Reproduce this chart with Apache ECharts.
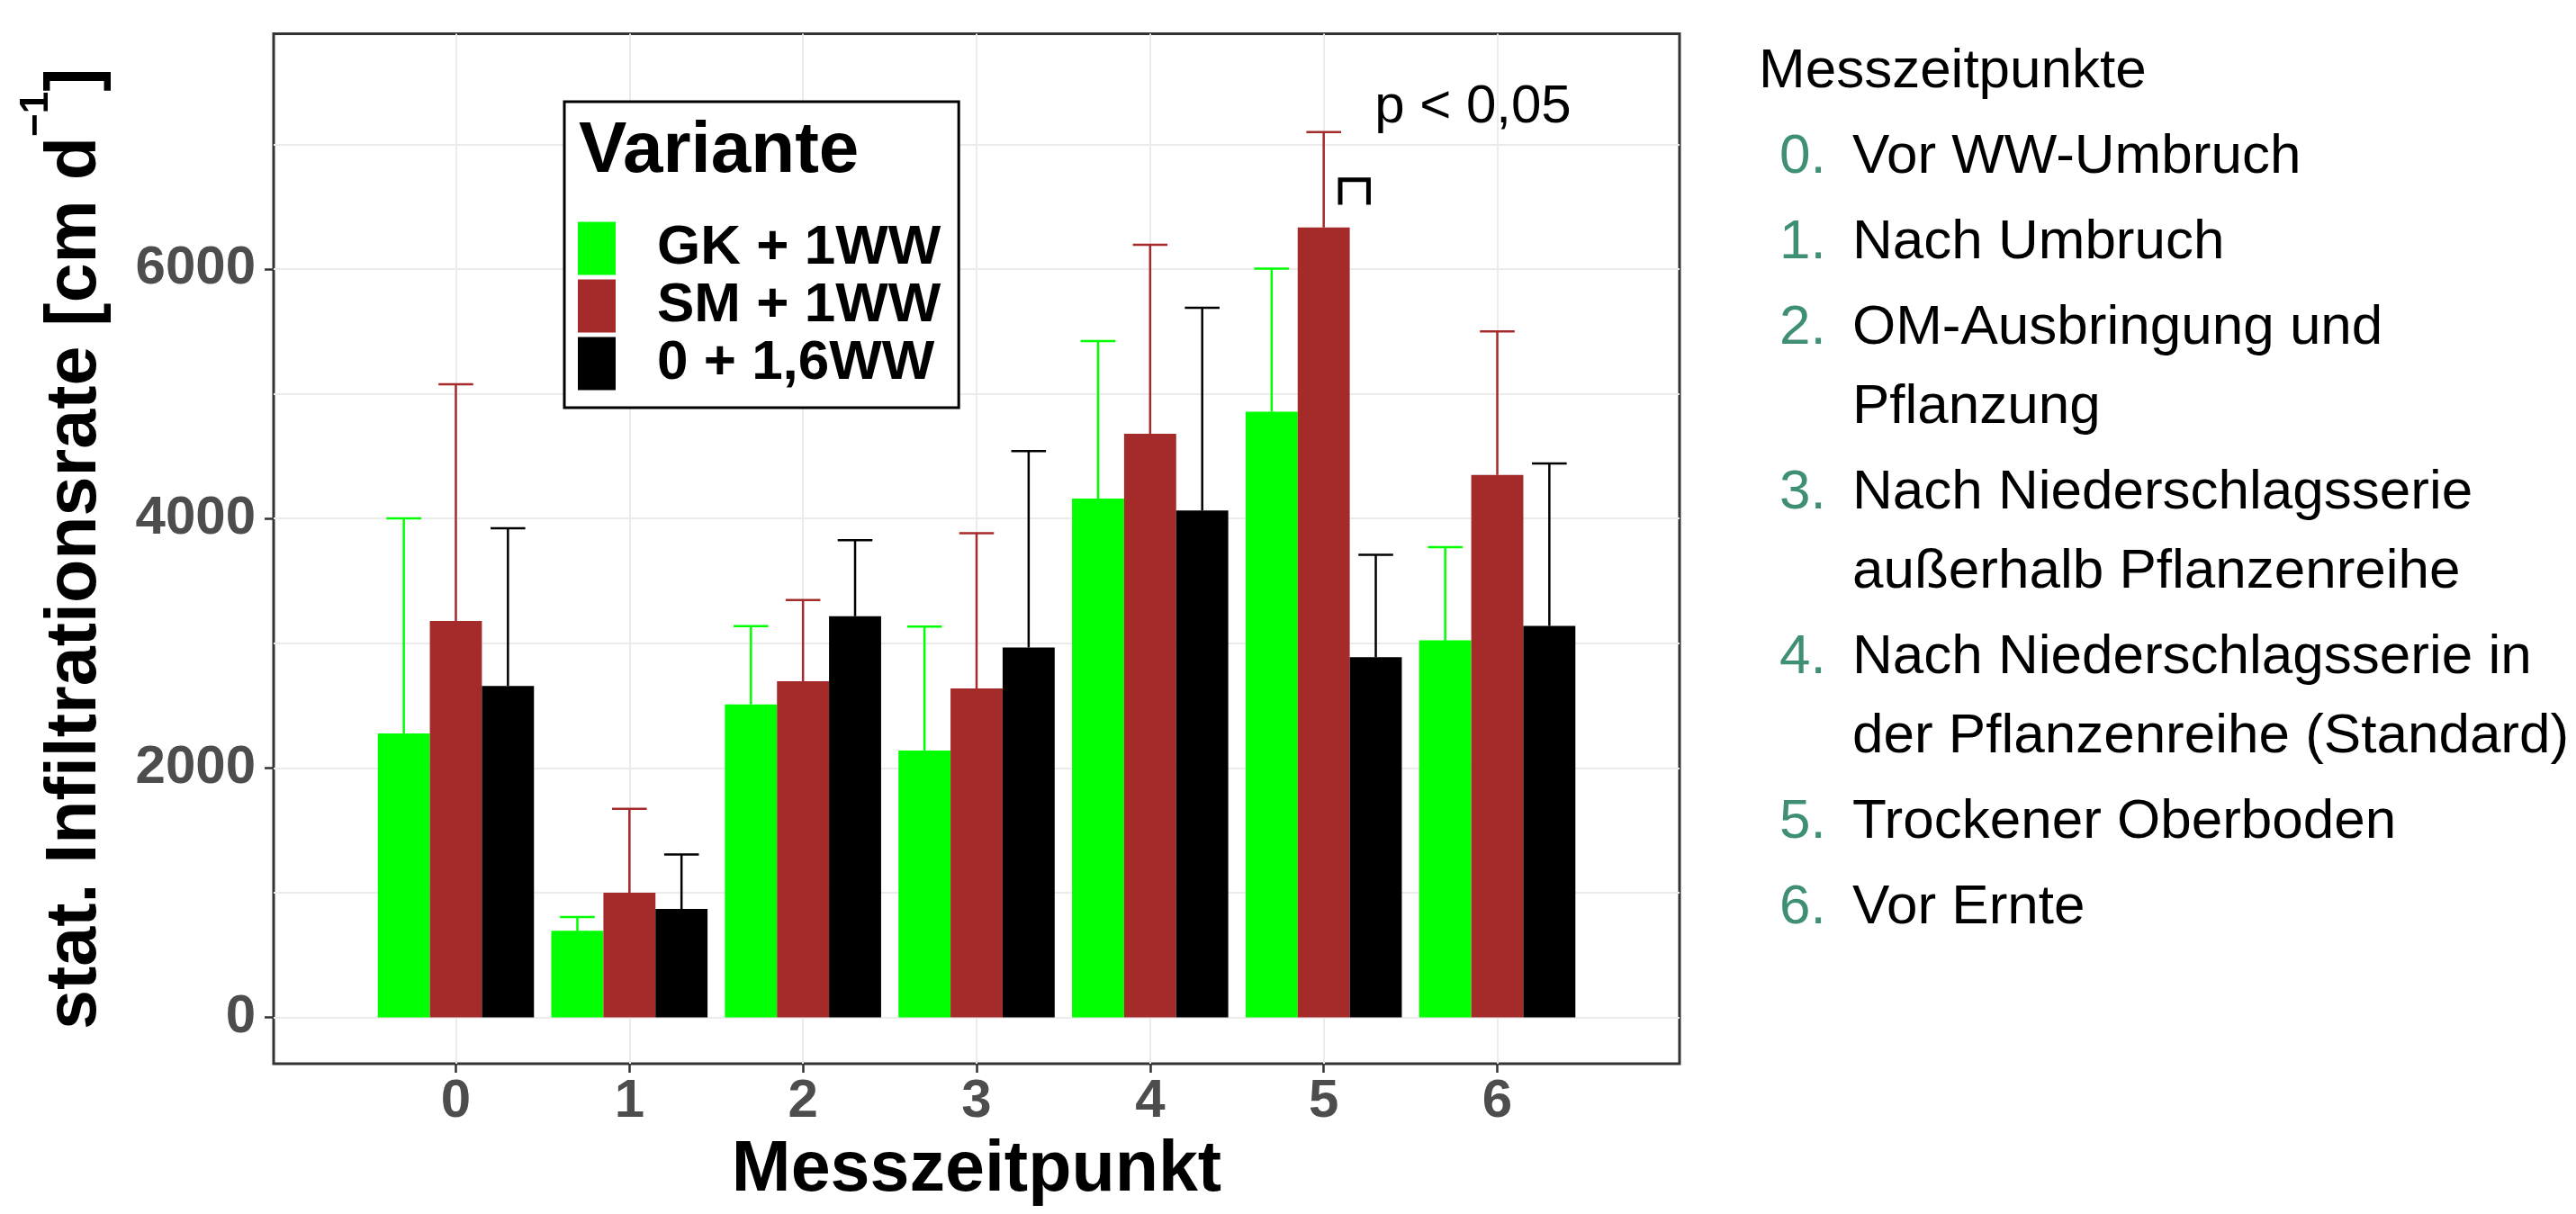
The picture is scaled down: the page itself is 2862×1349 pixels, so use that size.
<!DOCTYPE html>
<html>
<head>
<meta charset="utf-8">
<script src="https://cdn.jsdelivr.net/npm/echarts@6/dist/echarts.min.js"></script>
<style>
  html, body { margin: 0; padding: 0; background: #fff; }
  #chart { width: 2862px; height: 1349px; }
</style>
</head>
<body>
<div id="chart"></div>
<script>
// ---------- data ----------
const categories = [0, 1, 2, 3, 4, 5, 6];
const seriesNames = ['GK + 1WW', 'SM + 1WW', '0 + 1,6WW'];
const seriesColors = ['#00FF00', '#A52A2A', '#000000'];
const gkMean  = [2276, 694, 2508, 2139, 4159, 4855, 3022];
const gkUpper = [4001, 804, 3136, 3132, 5422, 6002, 3770];
const smMean  = [3178, 999, 2695, 2637, 4679, 6333, 4349];
const smUpper = [5076, 1672, 3345, 3882, 6194, 7098, 5499];
const wwMean  = [2657, 869, 3216, 2965, 4063, 2887, 3139];
const wwUpper = [3921, 1305, 3825, 4540, 5689, 3709, 4441];
const yTickLabels = [0, 2000, 4000, 6000];
const yGridValues = [0, 1000, 2000, 3000, 4000, 5000, 6000, 7000];
const bracketX = [5.095, 5.095, 5.258, 5.258];
const bracketY = [6515, 6716, 6716, 6515];
const annotationText = 'p < 0,05';
const annotationPos = [5.293, 7293];
const xTitle = 'Messzeitpunkt';
const legendTitle = 'Variante';
const panelHeader = 'Messzeitpunkte';
const panelNumbers = ['0.', '1.', '2.', '3.', '4.', '5.', '6.'];
const panelTexts = [
  ['Vor WW-Umbruch'],
  ['Nach Umbruch'],
  ['OM-Ausbringung und', 'Pflanzung'],
  ['Nach Niederschlagsserie', 'außerhalb Pflanzenreihe'],
  ['Nach Niederschlagsserie in', 'der Pflanzenreihe (Standard)'],
  ['Trockener Oberboden'],
  ['Vor Ernte']
];

// ---------- style constants ----------
const FONT = "'Liberation Sans', Arial, Helvetica, sans-serif";
const BAR_W = 0.3;
const CAP_W = 0.2;
const OFFSETS = [-0.3, 0, 0.3];
const means = [gkMean, smMean, wwMean];
const uppers = [gkUpper, smUpper, wwUpper];

function makeSeries(i) {
  const data = categories.map((c, k) => [c, means[i][k], uppers[i][k]]);
  const color = seriesColors[i];
  return {
    type: 'custom',
    name: seriesNames[i],
    itemStyle: { color: color },
    encode: { x: 0, y: [1, 2] },
    data: data,
    clip: true,
    z: 3,
    renderItem: function (params, api) {
      const x = api.value(0) + OFFSETS[i];
      const m = api.value(1);
      const u = api.value(2);
      const p0 = api.coord([x - BAR_W / 2, m]);
      const p1 = api.coord([x + BAR_W / 2, 0]);
      const mid = api.coord([x, m]);
      const top = api.coord([x, u]);
      const cl = api.coord([x - CAP_W / 2, u]);
      const cr = api.coord([x + CAP_W / 2, u]);
      return {
        type: 'group',
        children: [
          { type: 'rect', shape: { x: p0[0], y: p0[1], width: p1[0] - p0[0], height: p1[1] - p0[1] }, style: { fill: color } },
          { type: 'line', shape: { x1: mid[0], y1: mid[1], x2: top[0], y2: top[1] }, style: { stroke: color, lineWidth: 2.5 } },
          { type: 'line', shape: { x1: cl[0], y1: cl[1], x2: cr[0], y2: cr[1] }, style: { stroke: color, lineWidth: 2.5 } }
        ]
      };
    }
  };
}

// right-hand panel text
const panelGraphics = [];
const NUM_COLOR = '#3F8F72';
const PF = 62;
const MID_SHIFT = 0.3465 * PF;
panelGraphics.push({
  type: 'text', x: 1954, y: 101.7 - MID_SHIFT,
  style: { text: panelHeader, fill: '#000', fontSize: PF, fontFamily: FONT, align: 'left', verticalAlign: 'middle' }
});
let baseline = 196.4;
panelTexts.forEach((lines, idx) => {
  panelGraphics.push({
    type: 'text', x: 1977, y: baseline - MID_SHIFT,
    style: { text: panelNumbers[idx], fill: NUM_COLOR, fontSize: PF, fontFamily: FONT, align: 'left', verticalAlign: 'middle' }
  });
  lines.forEach((ln, j) => {
    panelGraphics.push({
      type: 'text', x: 2058, y: baseline - MID_SHIFT,
      style: { text: ln, fill: '#000', fontSize: PF, fontFamily: FONT, align: 'left', verticalAlign: 'middle' }
    });
    if (j < lines.length - 1) baseline += 88;
  });
  baseline += 95;
});

const chart = echarts.init(document.getElementById('chart'), null, { renderer: 'canvas' });

const option = {
  backgroundColor: '#ffffff',
  animation: false,
  title: {
    text: legendTitle, left: 643, top: 129, padding: 0, z: 10,
    textStyle: { fontFamily: FONT, fontSize: 80, fontWeight: 'bold', color: '#000', lineHeight: 80 }
  },
  legend: {
    data: seriesNames,
    orient: 'vertical',
    left: 627, top: 113,
    icon: 'rect',
    itemWidth: 42, itemHeight: 59, itemGap: 2,
    padding: [132, 20, 18, 15],
    borderColor: '#000', borderWidth: 3,
    backgroundColor: '#ffffff',
    selectedMode: false,
    z: 5,
    textStyle: { fontFamily: FONT, fontSize: 62, fontWeight: 'bold', color: '#000', lineHeight: 51, padding: [8, 0, 0, 41] }
  },
  grid: {
    left: 304, right: 2862 - 1866, top: 37.5, bottom: 1349 - 1182,
    show: true, borderColor: '#333333', borderWidth: 3, backgroundColor: 'transparent',
    containLabel: false, outerBoundsMode: 'none'
  },
  xAxis: {
    type: 'value', min: -1.05, max: 7.05,
    name: xTitle, nameLocation: 'middle', nameGap: 80, nameMoveOverlap: false,
    nameTextStyle: { fontFamily: FONT, fontSize: 79, fontWeight: 'bold', color: '#000', lineHeight: 79 },
    axisLine: { show: false, onZero: false },
    axisTick: { show: true, customValues: categories, length: 10, lineStyle: { color: '#333333', width: 2.5 } },
    axisLabel: { customValues: categories, formatter: v => String(v), margin: 12, fontFamily: FONT, fontSize: 60, fontWeight: 'bold', color: '#4D4D4D', lineHeight: 60 },
    splitLine: { show: true, lineStyle: { color: '#EBEBEB', width: 2 } }
  },
  yAxis: [
    {
      type: 'value', min: -372, max: 7886, position: 'left',
      name: '{m|stat. Infiltrationsrate [cm d}{s|\u22121}{m|]}',
      nameLocation: 'middle', nameRotate: 90, nameGap: 155, nameMoveOverlap: false,
      nameTextStyle: {
        rich: {
          m: { fontFamily: FONT, fontSize: 79, fontWeight: 'bold', color: '#000', lineHeight: 130 },
          s: { fontFamily: FONT, fontSize: 44, fontWeight: 'bold', color: '#000', lineHeight: 57, verticalAlign: 'top' }
        }
      },
      axisLine: { show: false, onZero: false },
      axisTick: { show: false, customValues: yGridValues },
      axisLabel: { customValues: yTickLabels, formatter: v => String(v), margin: 20, fontFamily: FONT, fontSize: 60, fontWeight: 'bold', color: '#4D4D4D' },
      splitLine: { show: true, lineStyle: { color: '#EBEBEB', width: 2 } }
    },
    {
      type: 'value', min: -372, max: 7886, position: 'left',
      axisLine: { show: false, onZero: false },
      axisTick: { show: true, customValues: yTickLabels, length: 10, lineStyle: { color: '#333333', width: 2.5 } },
      axisLabel: { show: false },
      splitLine: { show: false }
    }
  ],
  series: [
    makeSeries(0),
    makeSeries(1),
    makeSeries(2),
    {
      type: 'line', name: 'bracket',
      data: bracketX.map((x, k) => [x, bracketY[k]]),
      symbol: 'none', silent: true, z: 6,
      lineStyle: { color: '#000', width: 5, cap: 'butt', join: 'miter' }
    },
    {
      type: 'scatter', name: 'annotation',
      data: [annotationPos], symbolSize: 0, silent: true, z: 6,
      itemStyle: { opacity: 1, color: '#000' },
      label: { show: true, position: 'right', distance: 0, formatter: annotationText, fontFamily: FONT, fontSize: 60, color: '#000', opacity: 1 }
    }
  ],
  graphic: panelGraphics
};
chart.setOption(option);
</script>
</body>
</html>
